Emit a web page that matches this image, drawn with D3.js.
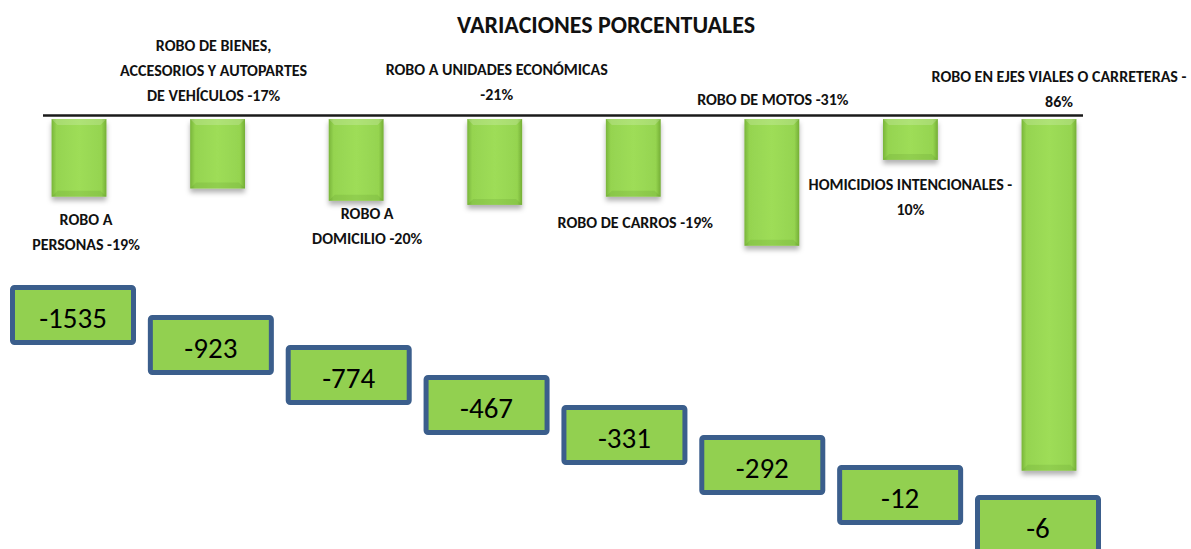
<!DOCTYPE html>
<html>
<head>
<meta charset="utf-8">
<script src="https://cdn.jsdelivr.net/npm/d3@7"></script>
<style>
  body { margin: 0; background: #fff; }
  .lbl { font-family: Carlito, "Liberation Sans Narrow", "Liberation Sans", sans-serif; font-weight: bold; font-size: 16px; fill: #111; }
  .title { font-family: Carlito, "Liberation Sans", sans-serif; font-weight: bold; font-size: 24px; fill: #111; }
  .boxval { font-family: Carlito, "Liberation Sans", sans-serif; font-size: 29px; fill: #000; }
</style>
</head>
<body>
<script>
var width = 1191,
    height = 549;

// data
var categories = ["ROBO A PERSONAS", "ROBO DE BIENES, ACCESORIOS Y AUTOPARTES DE VEHÍCULOS", "ROBO A DOMICILIO",
  "ROBO A UNIDADES ECONÓMICAS", "ROBO DE CARROS", "ROBO DE MOTOS", "HOMICIDIOS INTENCIONALES",
  "ROBO EN EJES VIALES O CARRETERAS"];
var pctChange = [-19, -17, -20, -21, -19, -31, -10, -86];
var absChange = [-1535, -923, -774, -467, -331, -292, -12, -6];

// where the label text wraps (character index)
var labelBreaks = [[6], [15, 39], [6], [26], [], [], [26], [34]];
// label placement, as it was dragged in the original
var labelSide = ["below", "above", "below", "above", "below", "above", "below", "above"];
var labelDx = [7, -4, 11, 2, 2, 1, 0, 10];
var labelDy = [28, 18, 18, 19, 31, 14, 30, 12];

var svg = d3.select("body").append("svg")
    .attr("width", width)
    .attr("height", height);

var defs = svg.append("defs");
var grad = defs.append("linearGradient").attr("id", "barGrad")
    .attr("x1", 0).attr("x2", 1).attr("y1", 0).attr("y2", 0);
[[0, "#79b53a"], [0.09, "#95d450"], [0.5, "#9edd58"], [0.91, "#95d450"], [1, "#74ae35"]].forEach(function(s) {
  grad.append("stop").attr("offset", s[0]).attr("stop-color", s[1]);
});
var shadow = defs.append("filter").attr("id", "shadow")
    .attr("x", "-20%").attr("y", "-10%").attr("width", "140%").attr("height", "130%");
shadow.append("feDropShadow").attr("dx", 0).attr("dy", 4).attr("stdDeviation", 2.5)
    .attr("flood-color", "#000").attr("flood-opacity", 0.3);

var x = d3.scaleBand()
    .domain(categories)
    .range([10, 1118])
    .paddingInner(0.604)
    .paddingOuter(0.3);

var barTop = 119;
var y = d3.scaleLinear()
    .domain([0, -100])
    .range([barTop, barTop + 409]);

// title
svg.append("text")
    .attr("class", "title")
    .attr("x", 606)
    .attr("y", 33)
    .attr("text-anchor", "middle")
    .text("VARIACIONES PORCENTUALES");

// baseline
svg.append("line")
    .attr("x1", 43).attr("x2", 1083)
    .attr("y1", 115.5).attr("y2", 115.5)
    .attr("stroke", "#1a1a1a")
    .attr("stroke-width", 2.5);

var bars = svg.selectAll(".bar")
    .data(categories)
  .enter().append("g")
    .attr("class", "bar")
    .attr("filter", "url(#shadow)");

bars.append("rect")
    .attr("x", function(d) { return x(d); })
    .attr("y", y(0))
    .attr("width", x.bandwidth())
    .attr("height", function(d, i) { return y(pctChange[i]) - y(0); })
    .attr("fill", "url(#barGrad)");

// bevel strips
bars.append("path")
    .attr("d", function(d) {
      var x0 = x(d), x1 = x(d) + x.bandwidth();
      return "M" + x0 + "," + y(0) + "L" + x1 + "," + y(0) + "L" + (x1 - 6) + "," + (y(0) + 6) + "L" + (x0 + 6) + "," + (y(0) + 6) + "Z";
    })
    .attr("fill", "#fff").attr("opacity", 0.18);
bars.append("path")
    .attr("d", function(d, i) {
      var x0 = x(d), x1 = x(d) + x.bandwidth(), yb = y(pctChange[i]);
      return "M" + x0 + "," + yb + "L" + x1 + "," + yb + "L" + (x1 - 6) + "," + (yb - 6) + "L" + (x0 + 6) + "," + (yb - 6) + "Z";
    })
    .attr("fill", "#3d6b18").attr("opacity", 0.12);

// labels
function splitLabel(s, breaks) {
  var lines = [], start = 0;
  breaks.forEach(function(b) { lines.push(s.slice(start, b).trim()); start = b; });
  lines.push(s.slice(start).trim());
  return lines;
}

var lineH = 25;
categories.forEach(function(c, i) {
  var lines = splitLabel(c + " " + pctChange[i] + "%", labelBreaks[i]);
  var cx = x(c) + x.bandwidth() / 2 + labelDx[i];
  var y0 = labelSide[i] === "below"
      ? y(pctChange[i]) + labelDy[i]
      : y(0) - labelDy[i] - (lines.length - 1) * lineH;
  var t = svg.append("text")
      .attr("class", "lbl")
      .attr("text-anchor", "middle");
  lines.forEach(function(l, j) {
    t.append("tspan").attr("x", cx).attr("y", y0 + j * lineH).text(l);
  });
});

// boxes with absolute changes
var bx = d3.scaleLinear().domain([0, categories.length - 1]).range([73, 1038]);
var by = d3.scaleLinear().domain([0, categories.length - 1]).range([285, 495]);
var boxW = 121, boxH = 55;

var boxes = svg.selectAll(".box")
    .data(absChange)
  .enter().append("g")
    .attr("class", "box")
    .attr("transform", function(d, i) { return "translate(" + bx(i) + "," + by(i) + ")"; });

boxes.append("rect")
    .attr("x", -boxW / 2)
    .attr("y", 2.5)
    .attr("width", boxW)
    .attr("height", boxH)
    .attr("rx", 2)
    .attr("fill", "#92d050")
    .attr("stroke", "#3b5e8c")
    .attr("stroke-width", 5);

boxes.append("text")
    .attr("class", "boxval")
    .attr("text-anchor", "middle")
    .attr("x", 0)
    .attr("y", 43)
    .text(function(d) { return d; });
</script>
</body>
</html>
